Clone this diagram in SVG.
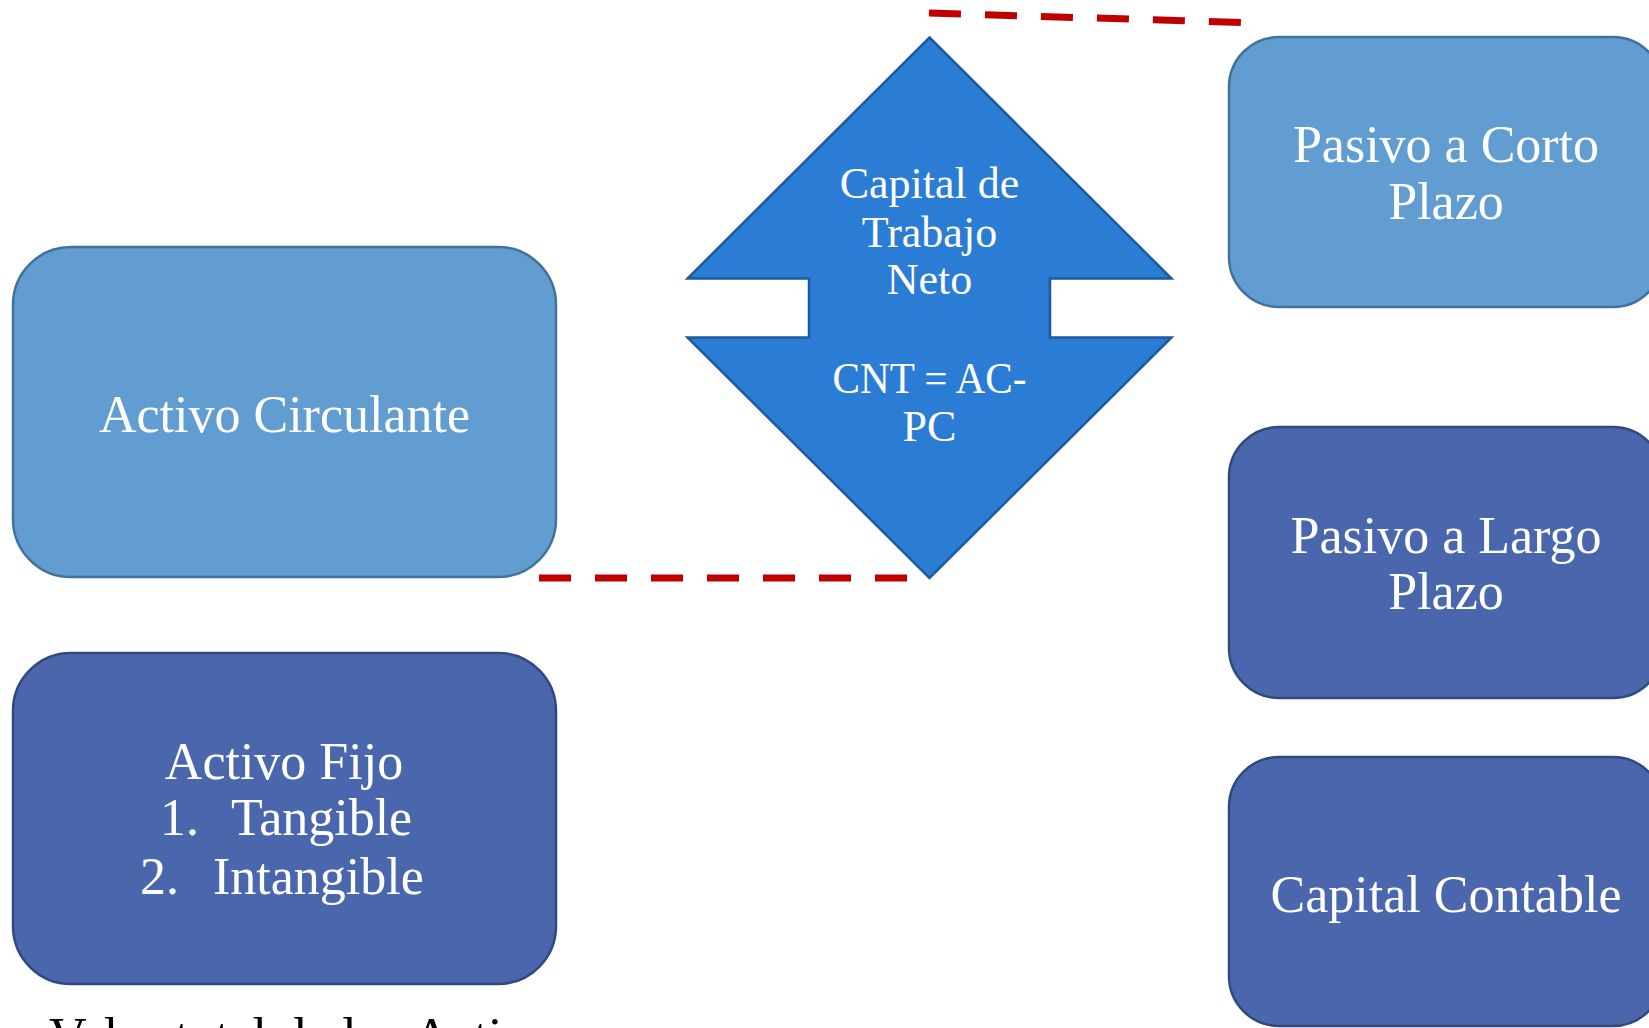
<svg xmlns="http://www.w3.org/2000/svg" width="1649" height="1028" viewBox="0 0 1649 1028">
<style>
.light{fill:#629DD1;stroke:#41719C;stroke-width:2.5}
.dark{fill:#4A66AC;stroke:#31497F;stroke-width:2.5}
.arrow{fill:#2B7CD4;stroke:#1E5B9C;stroke-width:2.5}
.t{font-family:"Liberation Serif","Times New Roman",serif;fill:#FFFFFF;font-size:52px}
.c{text-anchor:middle}
.d{font-size:44px}
.dash{stroke:#C00000;stroke-width:7;stroke-dasharray:32 24;fill:none}
.note{font-family:"Liberation Serif","Times New Roman",serif;fill:#000000;font-size:52px}
</style>
<rect width="1649" height="1028" fill="#FFFFFF"/>
<g id="connectors">
<line class="dash" x1="539" y1="578" x2="907" y2="578"/>
<line class="dash" x1="929" y1="13" x2="1241" y2="22.5"/>
</g>
<g id="activo-circulante">
<rect class="light" x="13" y="247" width="543" height="330" rx="58" ry="58"/>
<text class="t c" x="284.5" y="432">Activo Circulante</text>
</g>
<g id="activo-fijo">
<rect class="dark" x="13" y="653" width="543" height="331" rx="58" ry="58"/>
<text class="t c" x="284" y="779">Activo Fijo</text>
<text class="t" x="160" y="835">1.</text>
<text class="t" x="231" y="835">Tangible</text>
<text class="t" x="140" y="894">2.</text>
<text class="t" x="213" y="894">Intangible</text>
</g>
<g id="capital-trabajo-neto">
<polygon class="arrow" points="929.5,37.5 1171.5,278.5 1050,278.5 1050,337.5 1171.5,337.5 929.5,578 687.5,337.5 809,337.5 809,278.5 687.5,278.5"/>
<text class="t c d" x="929.5" y="198">Capital de</text>
<text class="t c d" x="929.5" y="247">Trabajo</text>
<text class="t c d" x="929.5" y="294">Neto</text>
<text class="t c d" x="929.5" y="393" textLength="194" lengthAdjust="spacingAndGlyphs">CNT = AC-</text>
<text class="t c d" x="929.5" y="441">PC</text>
</g>
<g id="pasivo-corto-plazo">
<rect class="light" x="1229" y="37" width="434" height="270" rx="50" ry="50"/>
<text class="t c" x="1446" y="162">Pasivo a Corto</text>
<text class="t c" x="1446" y="219">Plazo</text>
</g>
<g id="pasivo-largo-plazo">
<rect class="dark" x="1229" y="427" width="434" height="271" rx="50" ry="50"/>
<text class="t c" x="1446" y="553">Pasivo a Largo</text>
<text class="t c" x="1446" y="609">Plazo</text>
</g>
<g id="capital-contable">
<rect class="dark" x="1229" y="757" width="434" height="269" rx="50" ry="50"/>
<text class="t c" x="1446" y="912">Capital Contable</text>
</g>
<g id="nota">
<text class="note" x="49" y="1054">Valor total de los Activos</text>
</g>
</svg>
